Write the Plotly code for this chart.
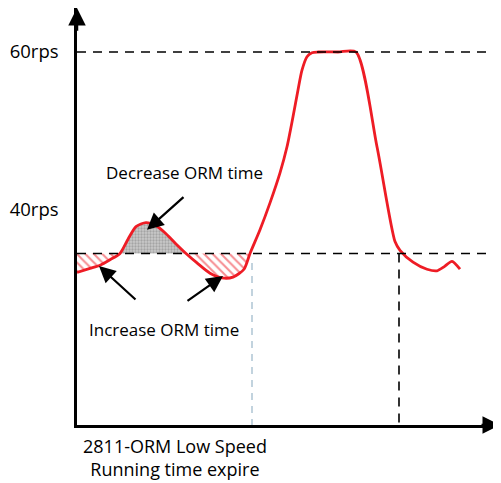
import numpy as np
import plotly.graph_objects as go

# speed curve (time in arbitrary units, speed in rps)
time_pts = [77, 90, 100, 110, 120, 128, 136, 146, 156, 166, 176, 186, 197, 210, 222, 233,
            244, 250, 260, 270, 280, 287, 293, 298, 302, 307, 312, 318, 338, 356, 377, 395,
            400, 413, 427, 437, 444, 452, 460]
speed_rps = [32.1, 32.6, 33.0, 33.7, 34.5, 36.3, 37.9, 38.4, 38.0, 37.0, 35.7, 34.5, 33.3,
             32.0, 31.4, 31.5, 32.5, 34.5, 37.5, 40.9, 44.7, 48.0, 51.8, 55.2, 57.7, 59.4,
             59.9, 60.0, 60.0, 60.0, 48.0, 36.0, 34.9, 33.4, 32.5, 32.3, 32.8, 33.5, 32.5]
threshold_rps = 34.5
top_rps = 60
tick_vals = [40, 60]
tick_text = ["40rps", "60rps"]
left_cross, mid_cross, right_cross = 120, 186, 250
expire_time = 399

FONT = "Open Sans, sans-serif"
RED = "#ee1c25"
Y_MIN, Y_MAX = 12.78, 65.57

t = np.array(time_pts)
v = np.array(speed_rps)

fig = go.Figure()


def add_region(a, b, pattern):
    m = (t >= a) & (t <= b)
    fig.add_trace(go.Scatter(x=[a, b], y=[threshold_rps, threshold_rps], mode="lines",
                             line=dict(width=0), hoverinfo="skip", showlegend=False))
    fig.add_trace(go.Scatter(x=t[m], y=v[m], mode="lines", fill="tonexty",
                             fillcolor="rgba(0,0,0,0)", fillpattern=pattern,
                             line=dict(width=0, shape="spline", smoothing=0.7),
                             hoverinfo="skip", showlegend=False))


hatch = dict(shape="\\", fgcolor=RED, bgcolor="white", size=6, solidity=0.35)
stipple = dict(shape=".", fgcolor="#7f7f7f", bgcolor="#c9c9c9", size=3, solidity=0.45)
add_region(t[0], left_cross, hatch)
add_region(left_cross, mid_cross, stipple)
add_region(mid_cross, right_cross, hatch)

fig.add_trace(go.Scatter(x=t, y=v, mode="lines",
                         line=dict(color=RED, width=2.8, shape="spline", smoothing=0.7),
                         showlegend=False))

# reference lines
dash = dict(color="black", width=1.6, dash="9px,7px")
fig.add_shape(type="line", x0=77, x1=501, y0=top_rps, y1=top_rps, line=dash)
fig.add_shape(type="line", x0=77, x1=496, y0=threshold_rps, y1=threshold_rps, line=dash)
fig.add_shape(type="line", x0=expire_time, x1=expire_time, y0=threshold_rps, y1=Y_MIN, line=dash)
fig.add_shape(type="line", x0=right_cross + 2, x1=right_cross + 2, y0=33.3, y1=Y_MIN,
              line=dict(color="#b3c9d6", width=1.6, dash="7px,6px"))

# axis arrowheads
arrow_style = dict(xref="x", yref="y", axref="x", ayref="y", text="", showarrow=True,
                   arrowhead=2, arrowcolor="black")
fig.add_annotation(x=77, y=Y_MAX, ax=77, ay=62.5, arrowsize=1.4, arrowwidth=2.5, **arrow_style)
fig.add_annotation(x=500, y=Y_MIN, ax=480, ay=Y_MIN, arrowsize=1.4, arrowwidth=2.5, **arrow_style)

# pointer arrows
arrows = [((147, 37.5), (185, 41.8)), ((99, 32.9), (137, 28.5)), ((223, 31.65), (186, 28.35))]
for (hx, hy), (tx, ty) in arrows:
    fig.add_annotation(x=hx, y=hy, ax=tx, ay=ty, arrowsize=1.5, arrowwidth=2.2, **arrow_style)

label_font = dict(family=FONT, size=17, color="black")
fig.add_annotation(x=184, y=44.7, text="Decrease ORM time", showarrow=False, font=label_font)
fig.add_annotation(x=164, y=24.9, text="Increase ORM time", showarrow=False, font=label_font)

# two-line caption under the time axis
fig.add_annotation(x=175, y=-32 / 417, xref="x", yref="paper", yanchor="middle",
                   text="2811-ORM Low Speed<br>Running time expire", showarrow=False,
                   align="center", font=dict(family=FONT, size=18, color="black"))

fig.update_xaxes(range=[77, 501], showline=True, linecolor="black", linewidth=2.5,
                 showgrid=False, zeroline=False, showticklabels=False, ticks="")
fig.update_yaxes(range=[Y_MIN, Y_MAX], showline=True, linecolor="black", linewidth=2.5,
                 showgrid=False, zeroline=False, tickvals=tick_vals, ticktext=tick_text,
                 ticks="", ticklabelstandoff=12,
                 tickfont=dict(family=FONT, size=18.5, color="black"))

# the page body has an 8px margin, so the figure is shrunk by that much
fig.update_layout(width=493, height=475, margin=dict(l=69, r=0, t=0, b=58),
                  paper_bgcolor="white", plot_bgcolor="white", showlegend=False)

fig.write_html("out.html")
